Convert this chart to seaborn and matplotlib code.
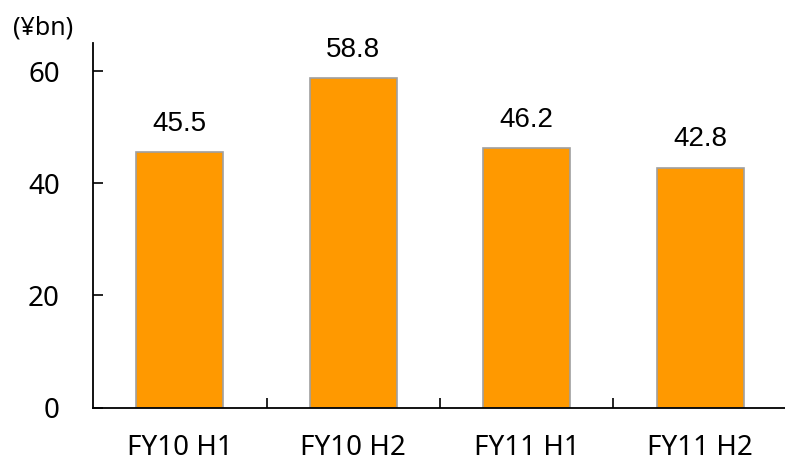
import matplotlib
matplotlib.use("Agg")
import matplotlib.pyplot as plt
import seaborn as sns
import pandas as pd

# ── Data ──────────────────────────────────────────────────────────────────────
periods = ["FY10 H1", "FY10 H2", "FY11 H1", "FY11 H2"]
values  = [45.5, 58.8, 46.2, 42.8]

df = pd.DataFrame({"Period": periods, "Value": values})

# ── Theme ─────────────────────────────────────────────────────────────────────
sns.set_theme(style="white")
plt.rcParams["font.family"] = ["Noto Sans", "DejaVu Sans"]
plt.rcParams["text.color"] = "black"
BAR  = "#FF9900"
EDGE = "#A0A0A0"

fig = plt.figure(figsize=(7.85, 4.66), dpi=100)
ax = fig.add_axes([0.1185, 0.1255, 0.884, 0.7822])

sns.barplot(data=df, x="Period", y="Value", color=BAR, saturation=1,
            width=0.5, edgecolor=EDGE, linewidth=1.2, ax=ax)

ax.set_xlim(-0.5, 3.5)
ax.set_ylim(0, 65)
ax.set_yticks([0, 20, 40, 60])
ax.set_xlabel("")
ax.set_ylabel("")

# category separators as inward ticks
ax.set_xticks([0.5, 1.5, 2.5], minor=True)
ax.tick_params(axis="x", which="major", length=0, pad=19, labelsize=20, colors="black")
ax.tick_params(axis="x", which="minor", direction="in", length=7, width=1.2,
               color="black", bottom=True)
ax.tick_params(axis="y", direction="in", length=7, width=1.2, pad=24,
               labelsize=20, colors="black", left=True)

for s in ["top", "right"]:
    ax.spines[s].set_visible(False)
for s in ["left", "bottom"]:
    ax.spines[s].set_color("black")
    ax.spines[s].set_linewidth(1.3)

for i, v in enumerate(values):
    ax.annotate(f"{v:.1f}", xy=(i, v), xytext=(0, 11), textcoords="offset points",
                ha="center", va="bottom", fontsize=20, color="black",
                family=["Liberation Sans", "DejaVu Sans"])

fig.text(43 / 785, 1 - 28 / 466, "(¥bn)", ha="center", va="center",
         fontsize=18, color="black")

fig.savefig("out.png", dpi=100, facecolor="white")
